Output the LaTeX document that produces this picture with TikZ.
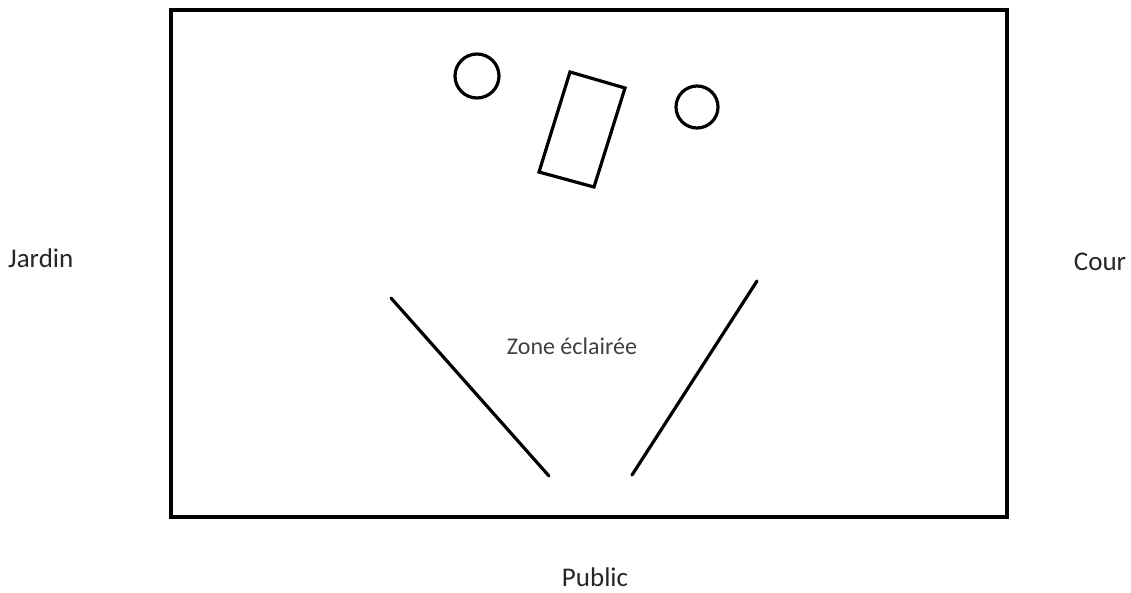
\documentclass[tikz,border=0pt]{standalone}
\usepackage{fontspec}
\setmainfont{Carlito}
\tikzset{
  stageline/.style={line width=3.2pt, line cap=round, black},
  prop/.style={line width=3.2pt, black},
  lbl/.style={inner sep=0pt, font=\fontsize{27}{30}\selectfont, text=black!85},
  zonelbl/.style={inner sep=0pt, font=\fontsize{24}{28}\selectfont, text=black!75},
}
\begin{document}
\begin{tikzpicture}[x=1pt,y=-1pt]
\useasboundingbox (0,0) rectangle (1131,592);
% stage
\draw[prop, line join=miter] (171,10) rectangle (1007,517);
% props
\node[prop, draw, circle, minimum size=44pt, inner sep=0pt] (c1) at (477,76) {};
\node[prop, draw, circle, minimum size=42pt, inner sep=0pt] (c2) at (697,107) {};
\draw[prop, line join=miter] (570,72) -- (625,88) -- (594,187) -- (539,172) -- cycle;
% light zone lines
\coordinate (l1) at (391,298);
\coordinate (l2) at (549,476);
\coordinate (r1) at (757,281);
\coordinate (r2) at (632,475);
\draw[stageline] (l1) -- (l2);
\draw[stageline] (r1) -- (r2);
% labels
\node[lbl, anchor=west] (jardin) at (8,258) {Jardin};
\node[lbl] (cour) at (1100,262) {Cour};
\node[zonelbl] (zone) at (572,346) {Zone éclairée};
\node[lbl] (public) at (595,577) {Public};
\end{tikzpicture}
\end{document}
